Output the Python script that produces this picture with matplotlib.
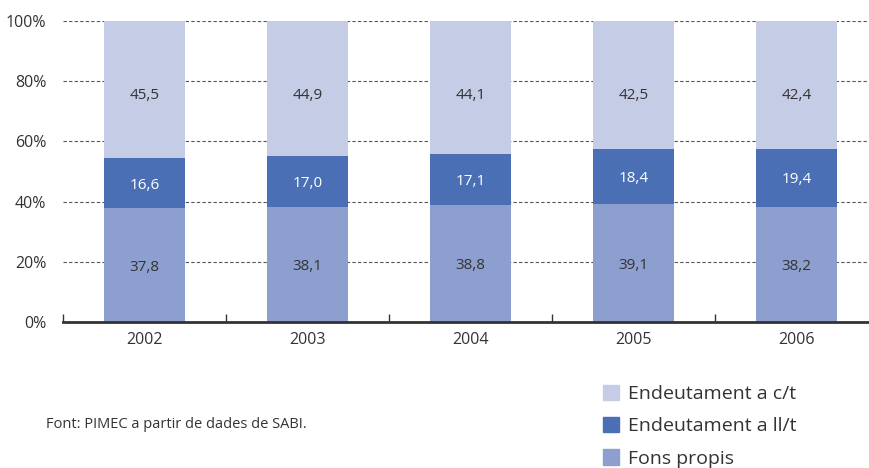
import matplotlib
matplotlib.use("Agg")
import matplotlib.pyplot as plt
from matplotlib.patches import Patch
import numpy as np

plt.rcParams['font.family'] = ['Open Sans', 'DejaVu Sans']

#### data
years = ['2002', '2003', '2004', '2005', '2006']
fons_propis = [37.8, 38.1, 38.8, 39.1, 38.2]
llarg = [16.6, 17.0, 17.1, 18.4, 19.4]
curt = [45.5, 44.9, 44.1, 42.5, 42.4]

c_curt = '#c5cce6'
c_llarg = '#4a6fb5'
c_fons = '#8d9fcf'
txt = '#333333'

fig = plt.figure(figsize=(8.69, 4.68), dpi=100)
ax = fig.add_axes([63/869, 1 - 322/468, 815/869, 301/468])

x = np.arange(len(years))
w = 0.503
ax.bar(x, fons_propis, w, color=c_fons, zorder=3)
ax.bar(x, llarg, w, bottom=fons_propis, color=c_llarg, zorder=3)
bot2 = np.array(fons_propis) + np.array(llarg)
ax.bar(x, curt, w, bottom=bot2, color=c_curt, zorder=3)

def fmt(v):
    return f'{v:.1f}'.replace('.', ',')

#### labels: bottom and middle centred in segment, top label at fixed height
for i in range(len(years)):
    ax.text(x[i], fons_propis[i] / 2, fmt(fons_propis[i]), ha='center', va='center_baseline',
            fontsize=11, color=txt, zorder=4)
    ax.text(x[i], fons_propis[i] + llarg[i] / 2, fmt(llarg[i]), ha='center', va='center_baseline',
            fontsize=11, color='white', zorder=4)
    ax.text(x[i], 76, fmt(curt[i]), ha='center', va='center_baseline',
            fontsize=11, color=txt, zorder=4)

ax.set_xlim(-0.5, len(years) - 0.5)
ax.set_ylim(0, 100)
ax.set_yticks([0, 20, 40, 60, 80, 100])
ax.set_yticklabels(['0%', '20%', '40%', '60%', '80%', '100%'])
ax.yaxis.grid(True, linestyle=(0, (3, 2)), color='#555555', linewidth=0.8, zorder=1)
ax.set_axisbelow(True)

ax.set_xticks(x)
ax.set_xticklabels(years)
ax.set_xticks(np.arange(-0.5, len(years) - 0.5, 1), minor=True)
ax.tick_params(axis='x', which='major', length=0, pad=7, labelsize=11.5, labelcolor=txt)
ax.tick_params(axis='x', which='minor', length=6, direction='in', color='#333333', width=1)
ax.tick_params(axis='y', length=0, pad=12, labelsize=11.5, labelcolor=txt)

for s in ['top', 'right', 'left']:
    ax.spines[s].set_visible(False)
ax.spines['bottom'].set_color('#333333')
ax.spines['bottom'].set_linewidth(2)
ax.spines['bottom'].set_zorder(5)

handles = [Patch(color=c_curt, label='Endeutament a c/t'),
           Patch(color=c_llarg, label='Endeutament a ll/t'),
           Patch(color=c_fons, label='Fons propis')]
fig.legend(handles=handles, loc='upper left', bbox_to_anchor=(585/869, 1 - 367/468),
           frameon=False, fontsize=14, handlelength=0.85, handleheight=0.85,
           handletextpad=0.45, labelspacing=0.72, labelcolor=txt)

fig.text(46/869, 1 - 424/468, 'Font: PIMEC a partir de dades de SABI.', fontsize=10.5,
         color=txt, va='center')

fig.savefig('out.png', dpi=100)
